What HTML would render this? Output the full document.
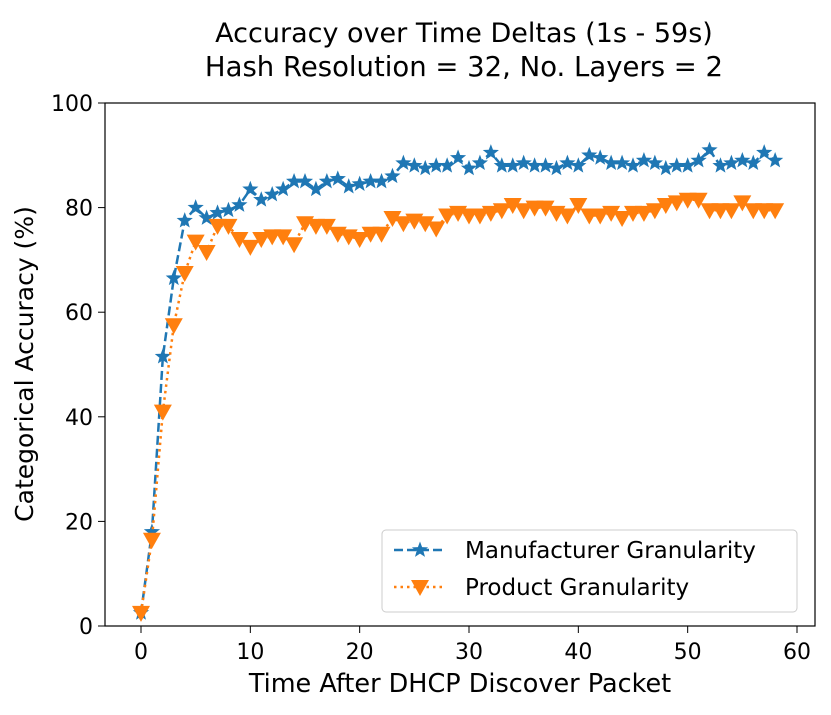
<!DOCTYPE html>
<html><head><meta charset="utf-8"><style>
body{margin:0;background:#fff}
svg text{font-family:"DejaVu Sans","Liberation Sans",sans-serif;fill:#000}
</style></head><body>
<svg id="chart" width="831" height="710" xmlns="http://www.w3.org/2000/svg">
<text x="464" y="42" font-size="27" text-anchor="middle">Accuracy over Time Deltas (1s - 59s)</text>
<text x="464" y="76" font-size="27.5" text-anchor="middle">Hash Resolution = 32, No. Layers = 2</text>
<g id="plot"></g>
<rect x="105" y="103" width="710" height="523" fill="none" stroke="#000" stroke-width="1.2"/>
<text x="460" y="692" font-size="25.5" text-anchor="middle">Time After DHCP Discover Packet</text>
<text transform="translate(33,364) rotate(-90)" font-size="25" text-anchor="middle">Categorical Accuracy (%)</text>
<g>
<rect x="382" y="530" width="415" height="82" rx="4" fill="#fff" stroke="#ccc"/>
<line x1="394" y1="550" x2="446" y2="550" stroke="#1f77b4" stroke-width="2.5" stroke-dasharray="9,4"/>
<polygon id="legstar" fill="#1f77b4"/>
<text x="465" y="558" font-size="23">Manufacturer Granularity</text>
<line x1="394" y1="587" x2="446" y2="587" stroke="#ff7f0e" stroke-width="2.5" stroke-dasharray="2.5,4"/>
<polygon points="411,580 429,580 420,596" fill="#ff7f0e"/>
<text x="465" y="595" font-size="23">Product Granularity</text>
</g>
</svg>
<script>
const xTicks=[0,10,20,30,40,50,60];
const yTicks=[0,20,40,60,80,100];
const manufacturer=[2.5,18,51.5,66.5,77.5,80,78,79,79.5,80.5,83.5,81.5,82.5,83.5,85,85,83.5,85,85.5,84,84.5,85,85,86,88.5,88,87.5,88,88,89.5,87.5,88.5,90.5,88,88,88.5,88,88,87.5,88.5,88,90,89.5,88.5,88.5,88,89,88.5,87.5,88,88,89,91,88,88.5,89,88.5,90.5,89];
const product=[2.5,16.5,41,57.5,67.5,73.5,71.5,76.5,76.5,74,72.5,74,74.5,74.5,73,77,76.5,76.5,75,74.5,74,75,75,78,77,77.5,77,76,78.5,79,78.5,78.5,79,79.5,80.5,79.5,80,80,79,78.5,80.5,78.5,78.5,79,78,79,79,79.5,80.5,81,81.5,81.5,79.5,79.5,79.5,81,79.5,79.5,79.5];
const NS="http://www.w3.org/2000/svg";
const X=v=>141+v*(797-141)/60;
const Y=v=>626-v*5.23;
const g=document.getElementById('plot');
function mk(t,a){const e=document.createElementNS(NS,t);for(const k in a)e.setAttribute(k,a[k]);g.appendChild(e);return e;}
xTicks.forEach(t=>{mk('line',{x1:X(t),x2:X(t),y1:626,y2:633,stroke:'#000'});
const tx=mk('text',{x:X(t),y:659,'font-size':22,'text-anchor':'middle'});tx.textContent=t;

});
yTicks.forEach(t=>{mk('line',{x1:98,x2:105,y1:Y(t),y2:Y(t),stroke:'#000'});
const tx=mk('text',{x:93,y:Y(t)+8,'font-size':22,'text-anchor':'end'});tx.textContent=t;

});
function starPts(x,y){let pts=[];for(let k=0;k<10;k++){const r=k%2?3.6:8.5,a=-Math.PI/2+k*Math.PI/5;pts.push((x+r*Math.cos(a))+','+(y+r*Math.sin(a)));}return pts.join(' ');}
document.getElementById('legstar').setAttribute('points',starPts(420,550));
function series(d,color,dash,name,marker){
const p=mk('polyline',{points:d.map((v,i)=>X(i)+','+Y(v)).join(' '),fill:'none',stroke:color,'stroke-width':2.5,'stroke-dasharray':dash});


d.forEach((v,i)=>{const m=marker(X(i),Y(v));

});}
function star(x,y){return mk('polygon',{points:starPts(x,y),fill:'#1f77b4'});}
function tri(x,y){return mk('polygon',{points:`${x-9},${y-7} ${x+9},${y-7} ${x},${y+9}`,fill:'#ff7f0e'});}
series(manufacturer,'#1f77b4','9,4','manufacturer',star);
series(product,'#ff7f0e','2.5,4','product',tri);
</script>
</body></html>
